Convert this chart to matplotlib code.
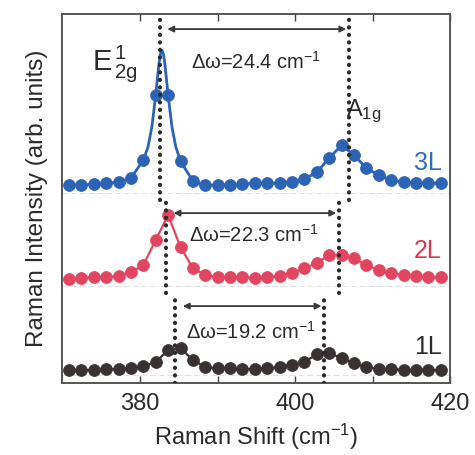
import matplotlib
matplotlib.use("Agg")
import matplotlib.pyplot as plt
import numpy as np

plt.rcParams['font.family'] = ['Liberation Sans', 'DejaVu Sans']
plt.rcParams['mathtext.fontset'] = 'custom'
plt.rcParams['mathtext.rm'] = 'Liberation Sans'
plt.rcParams['mathtext.it'] = 'Liberation Sans:italic'
plt.rcParams['mathtext.bf'] = 'Liberation Sans:bold'

# Raman shift sampling (cm^-1)
raman_shift = [370.8, 372.4, 374.0, 375.6, 377.2, 378.8, 380.4, 382.0, 383.6, 385.2,
               386.8, 388.4, 390.0, 391.6, 393.2, 394.8, 396.4, 398.0, 399.6, 401.2,
               402.8, 404.4, 406.0, 407.6, 409.2, 410.8, 412.4, 414.0, 415.6, 417.2, 418.8]

# Measured intensities (arb. units) for each layer count
int_3L = [0.00, 0.00, 0.01, 0.02, 0.03, 0.07, 0.25, 0.90, 0.90, 0.24, 0.04, 0.00, 0.00, 0.00, 0.01,
          0.02, 0.02, 0.02, 0.03, 0.06, 0.13, 0.27, 0.40, 0.30, 0.17, 0.10, 0.05, 0.03, 0.02, 0.02, 0.02]
int_2L = [0.00, 0.01, 0.02, 0.02, 0.03, 0.07, 0.14, 0.39, 0.64, 0.32, 0.11, 0.04, 0.02, 0.02, 0.02,
          0.01, 0.02, 0.03, 0.06, 0.11, 0.16, 0.24, 0.24, 0.21, 0.14, 0.09, 0.06, 0.04, 0.03, 0.02, 0.02]
int_1L = [0.00, 0.00, 0.00, 0.01, 0.01, 0.02, 0.04, 0.08, 0.20, 0.22, 0.10, 0.03, 0.02, 0.02, 0.01,
          0.01, 0.02, 0.03, 0.05, 0.08, 0.16, 0.17, 0.12, 0.07, 0.03, 0.01, 0.01, 0.00, 0.00, 0.00, 0.00]

# Extra vertices of the fitted E2g line shape for 3L
fit_peak_shift_3L = [381.0, 381.5, 382.4, 382.6, 382.8, 383.0, 383.2, 384.1, 384.6]
fit_peak_int_3L = [0.38, 0.58, 1.20, 1.31, 1.35, 1.31, 1.20, 0.58, 0.38]

# Vertical offsets of the stacked spectra
offset_3L, offset_2L, offset_1L = 1.98, 1.04, 0.13

# Peak positions (E2g) and frequency differences
e2g_pos = {'3L': 382.5, '2L': 383.3, '1L': 384.5}
delta_omega = {'3L': 24.4, '2L': 22.3, '1L': 19.2}

layer_labels = ['3L', '2L', '1L']
colors = {'3L': '#2c63b5', '2L': '#e2455f', '1L': '#3a3232'}
text_colors = {'3L': '#2f6cb9', '2L': '#d8394f', '1L': '#2b2b2b'}

fig = plt.figure(figsize=(4.75, 4.55), dpi=100)
ax = fig.add_axes([0.1305, 0.158, 0.817, 0.811])

x = np.array(raman_shift)
spectra = {'3L': (np.array(int_3L), offset_3L),
           '2L': (np.array(int_2L), offset_2L),
           '1L': (np.array(int_1L), offset_1L)}

# faint panel separators
for yb in [1.90, 0.97, 0.08]:
    ax.axhline(yb, color='#e2e2e2', lw=0.7, ls=(0, (6, 3)), zorder=1)

for lab in layer_labels:
    yv, off = spectra[lab]
    if lab == '3L':
        lx = np.concatenate([x, fit_peak_shift_3L])
        ly = np.concatenate([yv, fit_peak_int_3L])
        order = np.argsort(lx)
        ax.plot(lx[order], ly[order] + off, color=colors[lab], lw=2.0, zorder=2)
    else:
        ax.plot(x, yv + off, color=colors[lab], lw=1.6, zorder=2)
    ax.plot(x, yv + off, 'o', color=colors[lab], ms=8.6, mec=colors[lab],
            mew=0.5, zorder=3)

# dotted peak markers and Δω arrows
dot_spans = {'3L': (1.83, 3.69), '2L': (0.90, 1.83), '1L': (0.0, 0.90)}
arrow_y = {'3L': 3.54, '2L': 1.70, '1L': 0.77}
label_y = {'3L': 3.21, '2L': 1.48, '1L': 0.51}
for lab in layer_labels:
    e = e2g_pos[lab]
    a = e + delta_omega[lab]
    y0, y1 = dot_spans[lab]
    for xp in (e, a):
        ax.plot([xp, xp], [y0, y1], color='#2a2a2a', lw=3.0,
                ls=(0, (0.05, 1.75)), dash_capstyle='round', zorder=4)
    ax.annotate('', xy=(a - 0.3, arrow_y[lab]), xytext=(e + 1.0, arrow_y[lab]),
                arrowprops=dict(arrowstyle='<|-|>', color='#3a3a3a', lw=1.3,
                                mutation_scale=9, shrinkA=0, shrinkB=0), zorder=4)
    ax.text((e + a) / 2 + 0.2, label_y[lab],
            '\u0394\u03c9=%.1f cm$^{-1}$' % delta_omega[lab],
            ha='center', va='center', fontsize=14.5, color='#2b2b2b', zorder=5)

# layer labels
ax.text(418.9, 2.20, '3L', color=text_colors['3L'], fontsize=18, ha='right', va='center')
ax.text(418.9, 1.32, '2L', color=text_colors['2L'], fontsize=18, ha='right', va='center')
ax.text(418.9, 0.36, '1L', color=text_colors['1L'], fontsize=18, ha='right', va='center')

# mode labels
ax.text(376.8, 3.20, r'$\mathrm{E^{\,1}_{\,2g}}$', fontsize=21, ha='center', va='center',
        color='#2b2b2b')
ax.text(406.6, 2.72, r'$\mathrm{A_{1g}}$', fontsize=17, ha='left', va='center',
        color='#2b2b2b')

ax.set_xlim(369.9, 419.9)
ax.set_ylim(0, 3.69)
ax.set_xticks([380, 400, 420])
ax.set_xticks([390, 410], minor=True)
ax.tick_params(axis='x', which='both', direction='in', top=True, bottom=True,
               length=5, width=1.0, color='#444444', labelsize=17, pad=7,
               labelcolor='#2b2b2b')
ax.set_yticks([])
for sp in ax.spines.values():
    sp.set_color('#555555')
    sp.set_linewidth(1.4)

ax.set_xlabel('Raman Shift (cm$^{-1}$)', fontsize=17, color='#2b2b2b', labelpad=5)
ax.set_ylabel('Raman Intensity (arb. units)', fontsize=17.5, color='#2b2b2b', labelpad=10)

fig.savefig('out.png', dpi=100)
